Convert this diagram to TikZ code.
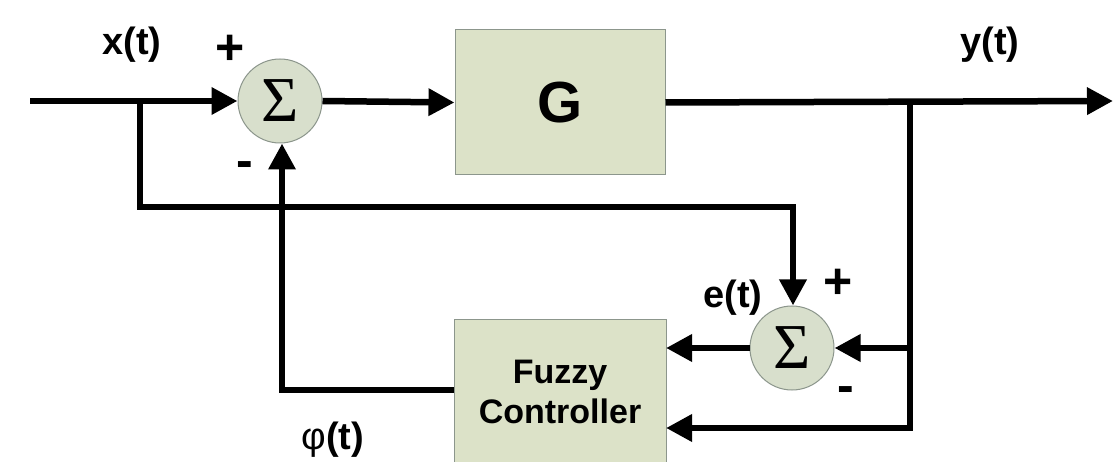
\documentclass[tikz,border=0pt]{standalone}
\usepackage{fontspec}
\setmainfont{Liberation Sans}
\newfontfamily\sigfont{Liberation Serif}
\usetikzlibrary{arrows.meta}
\definecolor{boxfill}{RGB}{220,226,200}
\definecolor{sumfill}{RGB}{216,223,204}
\definecolor{boxedge}{RGB}{140,150,140}
\tikzset{
  wire/.style={line width=6.5pt, line cap=butt, line join=miter},
  arr/.style={wire, -{Triangle[length=26pt,width=26pt]}},
  sumnode/.style={circle, draw=boxedge, line width=1pt, fill=sumfill, minimum size=84pt, inner sep=0pt, font=\sigfont\fontsize{64}{64}\selectfont},
  blockbox/.style={rectangle, draw=boxedge, line width=1pt, fill=boxfill, inner sep=0pt},
  lbl/.style={font=\bfseries\fontsize{38}{38}\selectfont, inner sep=0pt},
  sgn/.style={font=\bfseries\fontsize{50}{50}\selectfont, inner sep=0pt}
}
\begin{document}
\begin{tikzpicture}[x=1pt,y=-1pt]
\useasboundingbox (0,0) rectangle (1119,462);
\clip (0,0) rectangle (1119,462);
\fill[white] (0,0) rectangle (1119,462);
% blocks
\node[sumnode] (s1) at (280,101) {Σ};
\node[sumnode] (s2) at (792,348) {Σ};
\node[blockbox, minimum width=210pt, minimum height=145pt, font=\bfseries\fontsize{58}{58}\selectfont] (G) at (560,102.5) {G};
\node[blockbox, minimum width=212pt, minimum height=160pt] (F) at (560,400) {};
\node[align=center, inner sep=0pt, font=\bfseries\fontsize{34}{40}\selectfont] (Ft) at (560,392) {Fuzzy\\Controller};
% coordinates
\coordinate (in) at (30,101);
\coordinate (b1) at (140,101);
\coordinate (c1) at (140,207);
\coordinate (c2) at (793,207);
\coordinate (out) at (1113,101);
\coordinate (b2) at (910,101);
\coordinate (b3) at (910,348);
\coordinate (c3) at (910,428);
\coordinate (f1) at (666,348);
\coordinate (f2) at (666,428);
\coordinate (f3) at (454,390);
\coordinate (c4) at (282,390);
% connectors
\draw[arr] (in) -- (s1.west);
\draw[arr] (b1) -- (c1) -- (c2) -- (c2 |- s2.north);
\draw[arr] (s1.east) -- (G.west);
\draw[arr] (G.east) -- (out);
\draw[arr] (b2) -- (c3) -- (f2);
\draw[arr] (b3) -- (s2.east);
\draw[arr] (s2.west) -- (f1);
\draw[arr] (f3) -- (c4) -- (c4 |- s1.south);
% labels
\node[lbl] (lx) at (132,45) {x(t)};
\node[lbl] (ly) at (990,45) {y(t)};
\node[lbl] (le) at (733,298) {e(t)};
\node[lbl] (lp) at (333,440) {{\mdseries φ}(t)};
\node[sgn] (p1) at (230,50) {+};
\node[sgn] (m1) at (245,170) {-};
\node[sgn] (p2) at (838,284) {+};
\node[sgn] (m2) at (846,395) {-};
\end{tikzpicture}
\end{document}
